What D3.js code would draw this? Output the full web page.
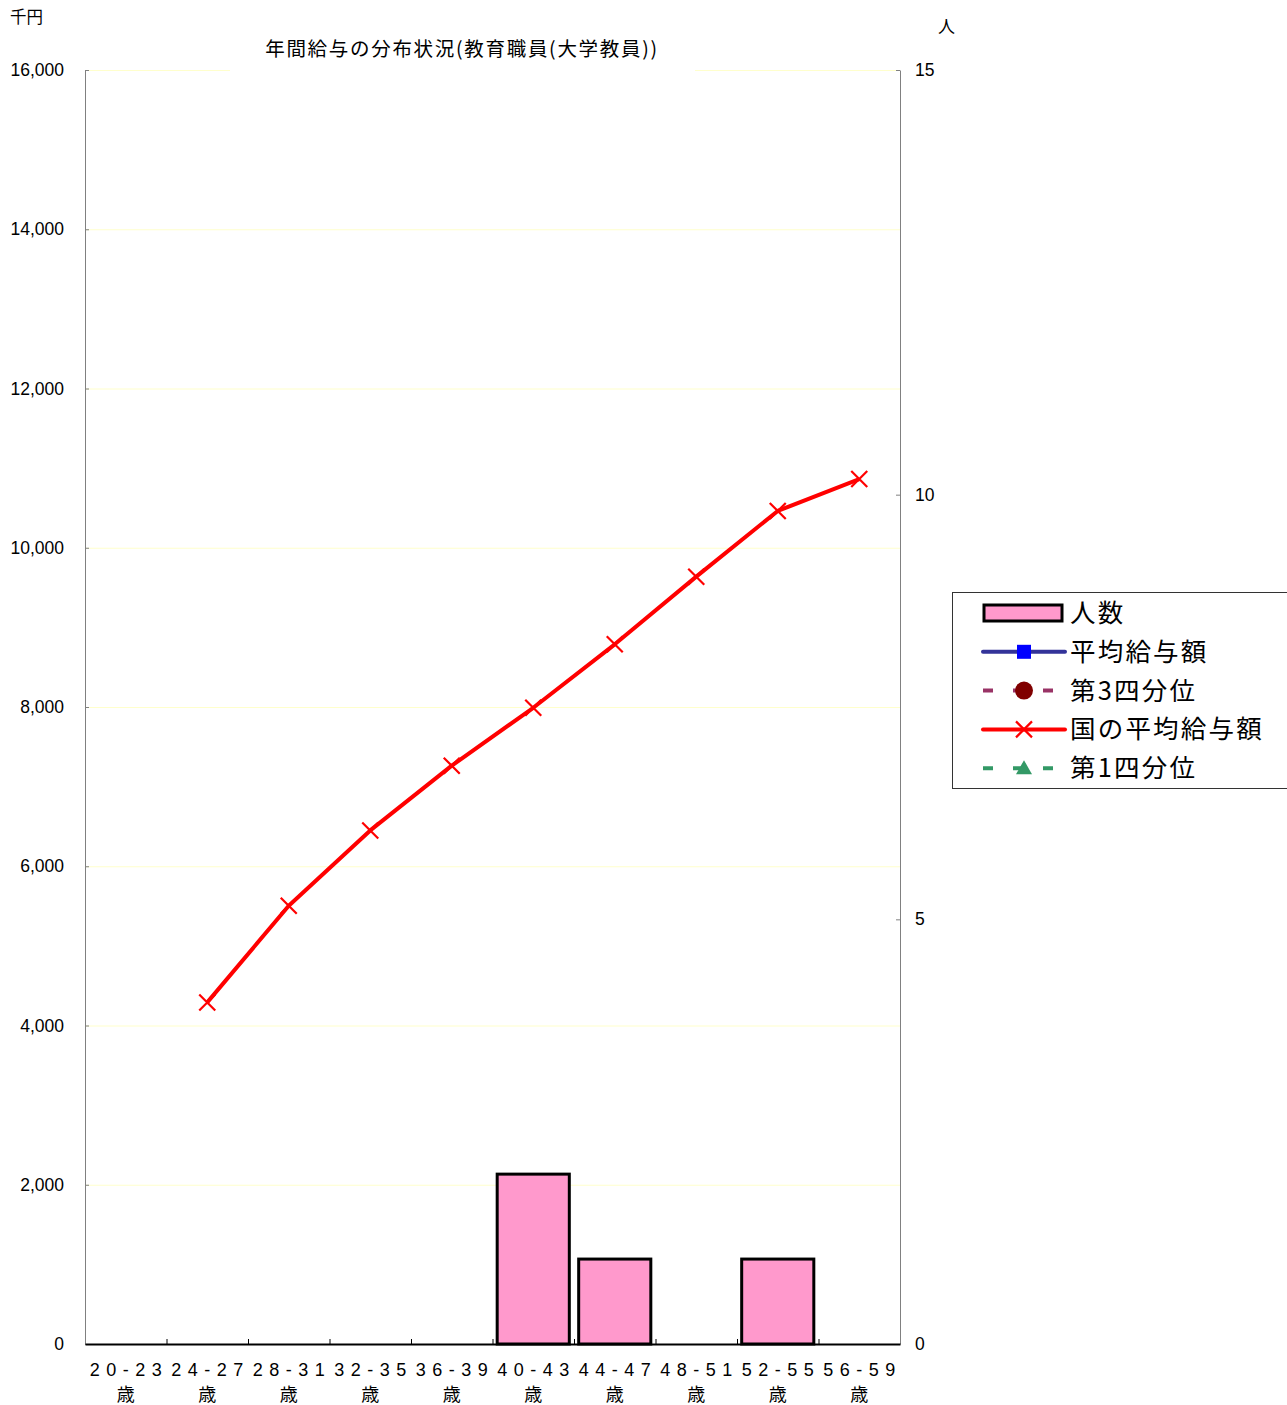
<!DOCTYPE html>
<html>
<head>
<meta charset="utf-8">
<script src="https://cdn.jsdelivr.net/npm/d3@7"></script>
<style>
  html, body { margin: 0; padding: 0; background: #fff; }
  svg { display: block; }
</style>
</head>
<body>
<svg id="chart" width="1287" height="1405"></svg>
<script>
// Age bands (x categories)
const ageBands = ["20 - 23", "24 - 27", "28 - 31", "32 - 35", "36 - 39",
                  "40 - 43", "44 - 47", "48 - 51", "52 - 55", "56 - 59"];
const ageUnit = "歳";

// Headcount per band (right axis, 人)
const headcount = [0, 0, 0, 0, 0, 2, 1, 0, 1, 0];

// Salary series (left axis, 千円); null = no value
const avgSalary      = [null, null, null, null, null, null, null, null, null, null];
const thirdQuartile  = [null, null, null, null, null, null, null, null, null, null];
const firstQuartile  = [null, null, null, null, null, null, null, null, null, null];
const nationalAvg    = [null, 4290, 5505, 6450, 7263, 7990, 8787, 9637, 10462, 10863];

// Axis ticks
const leftTicks  = [0, 2000, 4000, 6000, 8000, 10000, 12000, 14000, 16000];
const rightTicks = [0, 5, 10, 15];

const title = "年間給与の分布状況(教育職員(大学教員))";
const leftUnit = "千円";
const rightUnit = "人";

const legendItems = [
  { name: "人数",        kind: "bar" },
  { name: "平均給与額",  kind: "line", color: "#333399", marker: "square", mcolor: "#0000ff", dash: null },
  { name: "第3四分位",   kind: "line", color: "#993366", marker: "circle", mcolor: "#800000", dash: "10,20" },
  { name: "国の平均給与額", kind: "line", color: "#ff0000", marker: "cross", mcolor: "#ff0000", dash: null },
  { name: "第1四分位",   kind: "line", color: "#339966", marker: "triangle", mcolor: "#339966", dash: "10,20" }
];

const NUM_FONT = "'Liberation Sans', Arial, sans-serif";
const CJK_FONT = "'Noto Sans CJK JP', 'Noto Sans', sans-serif";

const svg = d3.select("#chart");
const plot = { left: 85, right: 900, top: 70, bottom: 1344 };

const x = d3.scaleBand().domain(ageBands).range([plot.left, plot.right]).padding(0);
const yL = d3.scaleLinear().domain([0, 16000]).range([plot.bottom, plot.top]);
const yR = d3.scaleLinear().domain([0, 15]).range([plot.bottom, plot.top]);

// Gridlines
svg.append("g").selectAll("line").data(leftTicks.filter(d => d > 0)).join("line")
  .attr("x1", plot.left).attr("x2", plot.right)
  .attr("y1", d => yL(d) + 0.5).attr("y2", d => yL(d) + 0.5)
  .attr("stroke", "#ffffcc").attr("stroke-width", 1.2);

// Bars (headcount)
const barW = x.bandwidth() * 0.885;
svg.append("g").selectAll("rect").data(headcount.map((v, i) => ({ v, band: ageBands[i] })).filter(d => d.v > 0))
  .join("rect")
  .attr("x", d => x(d.band) + (x.bandwidth() - barW) / 2)
  .attr("width", barW)
  .attr("y", d => yR(d.v))
  .attr("height", d => yR(0) - yR(d.v))
  .attr("fill", "#ff99cc")
  .attr("stroke", "#000").attr("stroke-width", 3);

// Left axis
const gL = svg.append("g").attr("transform", `translate(${plot.left},0)`)
  .call(d3.axisLeft(yL).tickValues(leftTicks).tickSizeInner(-4).tickSizeOuter(0)
    .tickFormat(d3.format(",")));
gL.select(".domain").attr("stroke", "#808080");
gL.selectAll(".tick line").attr("stroke", "#808080");
gL.selectAll(".tick text").attr("x", -21).attr("font-family", NUM_FONT).attr("font-size", 17.5).attr("fill", "#000");

// Right axis
const gR = svg.append("g").attr("transform", `translate(${plot.right},0)`)
  .call(d3.axisRight(yR).tickValues(rightTicks).tickSizeInner(-4).tickSizeOuter(0));
gR.select(".domain").attr("stroke", "#808080");
gR.selectAll(".tick line").attr("stroke", "#808080");
gR.selectAll(".tick text").attr("x", 15).attr("font-family", NUM_FONT).attr("font-size", 17.5).attr("fill", "#000");

// Bottom axis
const gB = svg.append("g").attr("transform", `translate(0,${plot.bottom})`)
  .call(d3.axisBottom(x).tickSize(0).tickFormat(""));
gB.select(".domain").attr("stroke", "#000").attr("stroke-width", 2);
// category boundary ticks pointing inward
gB.append("g").selectAll("line").data(ageBands.slice(1)).join("line")
  .attr("x1", d => x(d) + 0.5).attr("x2", d => x(d) + 0.5)
  .attr("y1", 0).attr("y2", -5).attr("stroke", "#000").attr("stroke-width", 1);

// X category labels: spaced-out digits on the first line, unit below
const xl = svg.append("g");
xl.selectAll("text.band").data(ageBands).join("text")
  .attr("class", "band")
  .attr("x", d => x(d) + x.bandwidth() / 2 - 36)
  .attr("y", 1376)
  .attr("textLength", 72).attr("lengthAdjust", "spacing")
  .attr("font-family", NUM_FONT).attr("font-size", 18)
  .text(d => d.replace(/(\d)(?=\d)/g, "$1 "));
xl.selectAll("text.unit").data(ageBands).join("text")
  .attr("class", "unit")
  .attr("x", d => x(d) + x.bandwidth() / 2)
  .attr("y", 1401).attr("text-anchor", "middle")
  .attr("font-family", CJK_FONT).attr("font-size", 18)
  .text(ageUnit);

// Line series on left axis
function drawSeries(values, item, width) {
  const pts = values.map((v, i) => ({ v, band: ageBands[i] })).filter(d => d.v != null);
  if (!pts.length) return;
  const line = d3.line().x(d => x(d.band) + x.bandwidth() / 2).y(d => yL(d.v));
  svg.append("path").datum(pts).attr("d", line)
    .attr("fill", "none").attr("stroke", item.color).attr("stroke-width", width)
    .attr("stroke-linejoin", "round")
    .attr("stroke-dasharray", item.dash);
  const g = svg.append("g");
  pts.forEach(d => drawMarker(g, x(d.band) + x.bandwidth() / 2, yL(d.v), item));
}

function drawMarker(g, cx, cy, item) {
  if (item.marker === "square") {
    g.append("rect").attr("x", cx - 7).attr("y", cy - 7).attr("width", 14).attr("height", 14).attr("fill", item.mcolor);
  } else if (item.marker === "circle") {
    g.append("circle").attr("cx", cx).attr("cy", cy).attr("r", 9).attr("fill", item.mcolor);
  } else if (item.marker === "cross") {
    const s = 8;
    g.append("path").attr("d", `M${cx - s},${cy - s}L${cx + s},${cy + s}M${cx - s},${cy + s}L${cx + s},${cy - s}`)
      .attr("stroke", item.mcolor).attr("stroke-width", 2.2).attr("fill", "none");
  } else if (item.marker === "triangle") {
    g.append("path").attr("d", `M${cx},${cy - 8}L${cx + 8},${cy + 6}L${cx - 8},${cy + 6}Z`).attr("fill", item.mcolor);
  }
}

drawSeries(avgSalary, legendItems[1], 4);
drawSeries(thirdQuartile, legendItems[2], 4);
drawSeries(nationalAvg, legendItems[3], 4);
drawSeries(firstQuartile, legendItems[4], 4);

// Title (on a white band over the top gridline)
svg.append("rect").attr("x", 230).attr("y", 30).attr("width", 465).attr("height", 44).attr("fill", "#fff");
svg.append("text").attr("x", 462).attr("y", 56).attr("text-anchor", "middle")
  .attr("font-family", CJK_FONT).attr("font-size", 19.5).attr("letter-spacing", 1.7).text(title);

// Axis units
svg.append("text").attr("x", 10).attr("y", 23).attr("font-family", CJK_FONT).attr("font-size", 16.5).text(leftUnit);
svg.append("text").attr("x", 938).attr("y", 33).attr("font-family", CJK_FONT).attr("font-size", 17).text(rightUnit);

// Legend
const lg = svg.append("g");
lg.append("rect").attr("x", 952.5).attr("y", 592.5).attr("width", 340).attr("height", 196)
  .attr("fill", "#fff").attr("stroke", "#333").attr("stroke-width", 1);
legendItems.forEach((item, i) => {
  const cy = 613 + i * 38.8;
  if (item.kind === "bar") {
    lg.append("rect").attr("x", 984).attr("y", cy - 8).attr("width", 78).attr("height", 16)
      .attr("fill", "#ff99cc").attr("stroke", "#000").attr("stroke-width", 3);
  } else {
    lg.append("line").attr("x1", 983).attr("x2", 1065).attr("y1", cy).attr("y2", cy)
      .attr("stroke", item.color).attr("stroke-width", 4)
      .attr("stroke-linecap", item.dash ? "butt" : "round")
      .attr("stroke-dasharray", item.dash);
    drawMarker(lg, 1024, cy, item);
  }
  lg.append("text").attr("x", 1070).attr("y", cy + 9)
    .attr("font-family", CJK_FONT).attr("font-size", 25.5).attr("letter-spacing", 2.2)
    .text(item.name);
});
</script>
</body>
</html>
